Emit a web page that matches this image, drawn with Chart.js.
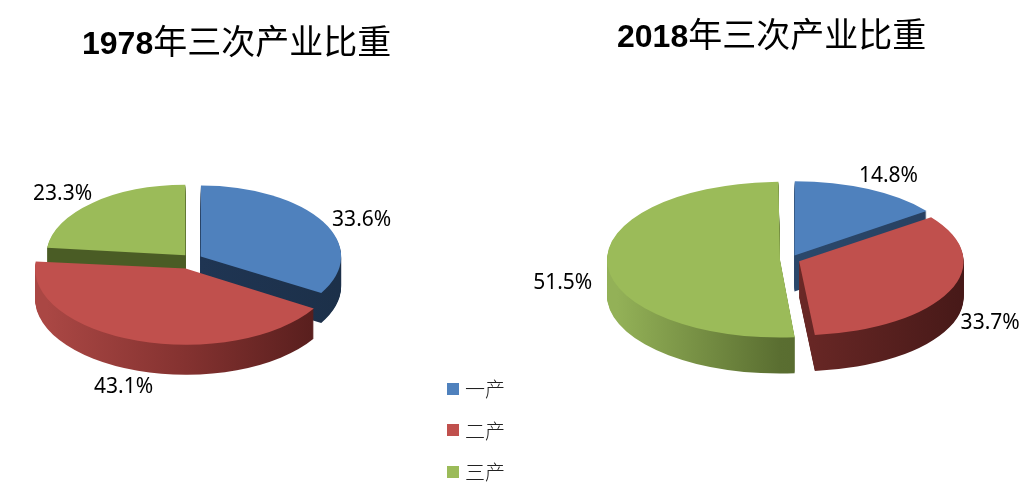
<!DOCTYPE html>
<html>
<head>
<meta charset="utf-8">
<script src="https://cdn.jsdelivr.net/npm/chart.js@4.4.1/dist/chart.umd.min.js"></script>
<style>
  html, body { margin: 0; padding: 0; background: #fff; }
  #wrap { position: relative; width: 1029px; height: 489px; overflow: hidden; }
  canvas { position: absolute; top: 0; }
  .title { position: absolute; white-space: nowrap; line-height: 40px; color: #000;
           font-family: "Noto Sans CJK SC", sans-serif; font-size: 34px; }
  .title b { font-family: "Liberation Sans", Arial, sans-serif; font-size: 32px; font-weight: bold; }
  #legend { position: absolute; left: 447px; top: 368px; }
  .item { position: relative; height: 41.5px; display: flex; align-items: center; }
  .item i { display: inline-block; width: 12px; height: 12px; margin-right: 6px; }
  .item span { font-family: "Noto Sans CJK SC", sans-serif; font-size: 20px; font-weight: 300; color: #222; }
</style>
</head>
<body>
<div id="wrap">
  <canvas id="pie1978" width="515" height="489" style="left:0"></canvas>
  <canvas id="pie2018" width="514" height="489" style="left:515px"></canvas>
  <div class="title" style="left:82px;top:20px"><b>1978</b>年三次产业比重</div>
  <div class="title" style="left:617px;top:13px"><b>2018</b>年三次产业比重</div>
  <div id="legend"></div>
</div>
<script>
const categories = ['一产', '二产', '三产'];
const share1978 = [33.6, 43.1, 23.3];
const share2018 = [14.8, 33.7, 51.5];

const topColors = ['#4f81bd', '#c0504d', '#9bbb59'];

// side shading, left -> right across the pie
const sides1978 = [
  ['#1f3553', '#1f3553', '#1c3049'],
  ['#aa4744', '#843230', '#551d1c'],
  ['#4a5c25', '#4a5c25', '#44541f']
];
const sides2018 = [
  ['#2d4c71', '#2b486b', '#273f5f'],
  ['#8a3533', '#6a2826', '#471918'],
  ['#93b157', '#5a6e31', '#4e6029']
];

// fake 3D: squash the pie, stack darker copies of each arc underneath
function makePie3d(tilt, depth, sides) {
  return {
    id: 'pie3d',
    beforeDatasetsDraw(chart) {
      const ctx = chart.ctx;
      const arcs = chart.getDatasetMeta(0).data;
      const cx = arcs[0].x, cy = arcs[0].y, r = arcs[0].outerRadius;
      ctx.save();
      ctx.translate(cx, cy);
      ctx.scale(1, tilt);
      ctx.translate(-cx, -cy);
      const backness = a => Math.sin((a.startAngle + a.endAngle) / 2);
      const order = arcs.map((a, i) => i).sort((a, b) => backness(arcs[a]) - backness(arcs[b]));
      order.forEach(i => {
        const arc = arcs[i];
        const g = ctx.createLinearGradient(cx - r, 0, cx + r, 0);
        sides[i].forEach((c, k, all) => g.addColorStop(k / (all.length - 1), c));
        const side = Object.create(arc);
        side.options = Object.assign({}, arc.options, { backgroundColor: g, borderWidth: 0 });
        for (let d = depth; d > 0; d--) {
          ctx.save();
          ctx.translate(0, d / tilt);
          side.draw(ctx);
          ctx.restore();
        }
      });
    },
    afterDatasetsDraw(chart) {
      chart.ctx.restore();
    },
    afterDraw(chart) {
      const ctx = chart.ctx;
      const values = chart.data.datasets[0].data;
      ctx.save();
      ctx.font = '21px "Noto Sans", "Liberation Sans", sans-serif';
      ctx.fillStyle = '#000';
      ctx.textAlign = 'center';
      ctx.textBaseline = 'middle';
      chart.getDatasetMeta(0).data.forEach((arc, i) => {
        const mid = (arc.startAngle + arc.endAngle) / 2;
        const dx = Math.cos(mid), dy = Math.sin(mid);
        const shift = (arc.options.offset || 0) / 4;
        const grow = shift * (1 - Math.sin(Math.min(Math.PI, arc.circumference)));
        const rr = arc.outerRadius + shift + grow + 15;
        const text = values[i].toFixed(1) + '%';
        const w = ctx.measureText(text).width, h = 20;
        const x = arc.x + dx * rr + dx * w / 2;
        const y = arc.y + dy * rr * tilt + depth * (1 + dy) / 2 + dy * h / 2;
        ctx.fillText(text, x, y);
      });
      ctx.restore();
    }
  };
}

function pieChart(id, values, explode, radius, padding, tilt, depth, sides) {
  return new Chart(document.getElementById(id), {
    type: 'pie',
    data: {
      labels: categories,
      datasets: [{
        data: values,
        backgroundColor: topColors,
        borderWidth: 0,
        offset: explode,
        clip: false
      }]
    },
    options: {
      responsive: false,
      animation: false,
      events: [],
      radius: radius,
      layout: { padding: padding },
      plugins: {
        legend: { display: false },
        title: { display: false },
        tooltip: { enabled: false }
      }
    },
    plugins: [makePie3d(tilt, depth, sides)]
  });
}

pieChart('pie1978', share1978, [40, 80, 40], 139, { left: 0, right: 131, top: 29, bottom: 0 }, 0.506, 30, sides1978);
pieChart('pie2018', share2018, [40, 40, 40], 163, { left: 36, right: 0, top: 30, bottom: 0 }, 0.45, 36, sides2018);

const legend = document.getElementById('legend');
categories.forEach((name, i) => {
  const row = document.createElement('div');
  row.className = 'item';
  row.innerHTML = '<i style="background:' + topColors[i] + '"></i><span>' + name + '</span>';
  legend.appendChild(row);
});
</script>
</body>
</html>
